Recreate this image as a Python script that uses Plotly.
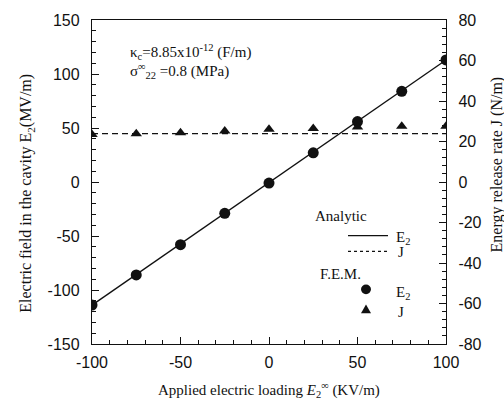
import plotly.graph_objects as go

# Applied electric loading E2^inf (KV/m)
loading = [-100, -75, -50, -25, 0, 25, 50, 75, 100]

# F.E.M. results
fem_e2 = [-114, -86, -58, -29, -1, 27, 56, 84, 113]          # MV/m (left axis)
fem_j = [23.5, 23.8, 24.3, 25.2, 26.0, 26.4, 27.2, 27.5, 27.5]  # N/m (right axis)

# Analytic solution
analytic_x = [-100, 100]
analytic_e2 = [-114, 113]
analytic_j = [23.9, 23.9]

# Axis ticks
x_ticks = [-100, -50, 0, 50, 100]
e2_ticks = [-150, -100, -50, 0, 50, 100, 150]
j_ticks = [-80, -60, -40, -20, 0, 20, 40, 60, 80]

SERIF = "Liberation Serif, Times New Roman, serif"
SANS = "Liberation Sans, Arial, sans-serif"
INK = "#111"

W, H = 504, 406
L, R, T, B = 92, 58, 12, 62
pw, ph = W - L - R, H - T - B


def px2paper(px, py):
    return (px - L) / pw, 1 - (py - T) / ph


def hyphen_labels(vals):
    return [str(v) for v in vals]


fig = go.Figure()

fig.add_trace(go.Scatter(x=analytic_x, y=analytic_e2, mode="lines",
                         line=dict(color=INK, width=1.4), showlegend=False))
fig.add_trace(go.Scatter(x=loading, y=fem_e2, mode="markers",
                         marker=dict(symbol="circle", size=11, color=INK), showlegend=False))
fig.add_trace(go.Scatter(x=analytic_x, y=analytic_j, mode="lines", yaxis="y2",
                         line=dict(color=INK, width=1.3, dash="6px,4px"), showlegend=False))
fig.add_trace(go.Scatter(x=loading, y=fem_j, mode="markers", yaxis="y2",
                         marker=dict(symbol="triangle-up", size=10, color=INK), showlegend=False))

tickfont = dict(family=SANS, size=16, color=INK)
axis_common = dict(ticks="inside", ticklen=7, tickcolor=INK, tickwidth=1.2,
                   showline=True, linecolor=INK, linewidth=1.4,
                   showgrid=False, zeroline=False, tickfont=tickfont)

fig.update_layout(
    width=W, height=H,
    margin=dict(l=L, r=R, t=T, b=B),
    paper_bgcolor="white", plot_bgcolor="white",
    xaxis=dict(range=[-100, 100], tickvals=x_ticks, ticktext=hyphen_labels(x_ticks),
               minor=dict(dtick=10, ticks="inside", ticklen=4, tickcolor=INK, tickwidth=1),
               mirror=True, ticklabelstandoff=4, **axis_common),
    yaxis=dict(range=[-150, 150], tickvals=e2_ticks, ticktext=hyphen_labels(e2_ticks),
               minor=dict(dtick=10, ticks="inside", ticklen=4, tickcolor=INK, tickwidth=1),
               ticklabelstandoff=8, **axis_common),
    yaxis2=dict(range=[-80, 80], tickvals=j_ticks, ticktext=hyphen_labels(j_ticks),
                overlaying="y", side="right",
                minor=dict(dtick=4, ticks="inside", ticklen=4, tickcolor=INK, tickwidth=1),
                ticklabelstandoff=8, **axis_common),
)


def label(text, px, py, size=15, xanchor="left", angle=0):
    x, y = px2paper(px, py)
    return dict(text=text, x=x, y=y, xref="paper", yref="paper",
                xanchor=xanchor, yanchor="middle", textangle=angle,
                showarrow=False, font=dict(family=SERIF, size=size, color=INK))


annotations = [
    # axis titles
    label("Applied electric loading <i>E</i><sub>2</sub><sup>∞</sup> (KV/m)", 269, 391,
          size=15, xanchor="center"),
    label("Electric field in the cavity E<sub>2</sub>(MV/m)", 27, 190,
          size=16, xanchor="center", angle=-90),
    label("Energy release rate J (N/m)", 497, 160, size=16, xanchor="center", angle=-90),
    # material parameters
    label("κ<sub>c</sub>=8.85x10<sup>-12</sup> (F/m)", 128, 45),
    label("σ<sup>∞</sup><sub>22</sub> =0.8 (MPa)", 128, 64),
    # legend labels
    label("Analytic", 313, 213),
    label("E<sub>2</sub>", 394, 235),
    label("J", 396, 250),
    label("F.E.M.", 318, 272),
    label("E<sub>2</sub>", 394, 292),
    label("J", 396, 311),
]
fig.update_layout(annotations=annotations)

# legend line samples
x0, y0 = px2paper(348, 233)
x1, _ = px2paper(388, 233)
fig.add_shape(type="line", xref="paper", yref="paper", x0=x0, x1=x1, y0=y0, y1=y0,
              line=dict(color=INK, width=1.4))
x0, y0 = px2paper(348, 249)
x1, _ = px2paper(388, 249)
fig.add_shape(type="line", xref="paper", yref="paper", x0=x0, x1=x1, y0=y0, y1=y0,
              line=dict(color=INK, width=1.3, dash="dot"))

# legend markers
mx, my1 = px2paper(366, 288)
_, my2 = px2paper(366, 308)
r = 5 / pw
rv = 5 / ph
fig.add_shape(type="circle", xref="paper", yref="paper",
              x0=mx - r, x1=mx + r, y0=my1 - rv, y1=my1 + rv,
              fillcolor=INK, line=dict(color=INK, width=0))
tri_w, tri_h = 5 / pw, 9 / ph
path = (f"M {mx - tri_w},{my2 - tri_h/2} L {mx + tri_w},{my2 - tri_h/2} "
        f"L {mx},{my2 + tri_h/2} Z")
fig.add_shape(type="path", xref="paper", yref="paper", path=path,
              fillcolor=INK, line=dict(color=INK, width=0))

fig.write_html("out.html")
